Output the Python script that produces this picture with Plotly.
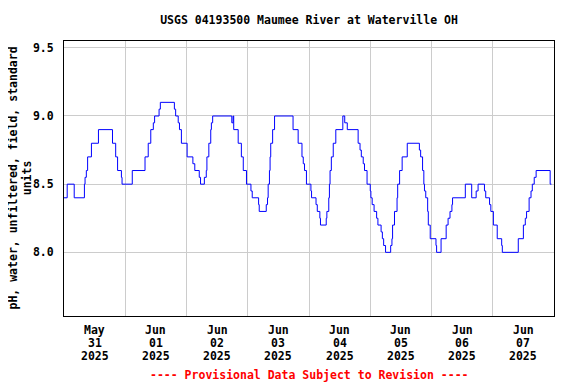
import pandas as pd
import plotly.graph_objects as go

# Change points of the pH series: hours after 2025-05-31 00:00 and value
hours = [0, 1.25, 4.0, 8.0, 8.25, 8.75, 9.25, 10.75, 13.5, 19.0,
         20.25, 21.0, 22.5, 22.75, 26.75, 31.75, 33.0, 34.0, 35.0, 35.5,
         37.25, 37.75, 43.25, 43.75, 44.75, 45.25, 46.0, 48.25, 50.5, 51.25,
         53.0, 53.5, 55.0, 55.75, 56.0, 56.75, 57.5, 57.75, 58.25, 65.75,
         66.25, 66.5, 68.25, 69.5, 70.25, 71.5, 73.25, 73.75, 76.25, 76.5,
         79.25, 79.75, 80.0, 80.5, 80.75, 81.0, 81.75, 82.5, 89.75, 91.75,
         93.25, 93.75, 94.25, 95.0, 96.75, 97.0, 98.75, 99.25, 100.25, 100.5,
         102.75, 103.0, 103.75, 104.0, 104.25, 104.75, 105.5, 106.5, 109.25, 110.0,
         111.0, 115.25, 116.0, 116.5, 117.25, 117.75, 118.75, 120.0, 120.25, 120.75,
         121.5, 122.5, 123.0, 124.25, 124.75, 125.25, 126.0, 128.0, 128.5, 128.75,
         129.5, 130.5, 130.75, 131.5, 132.5, 134.5, 139.25, 139.75, 140.5, 141.0,
         141.25, 141.75, 142.5, 142.75, 143.5, 145.75, 146.0, 147.75, 149.75, 150.5,
         151.25, 152.0, 152.25, 157.25, 159.75, 161.5, 162.25, 164.75, 165.25, 166.75,
         167.25, 168.25, 169.75, 171.5, 171.75, 178.0, 180.0, 180.75, 181.25, 182.25,
         183.0, 183.5, 184.25, 185.0, 190.5, 191.0]
ph = [8.4, 8.5, 8.4, 8.5, 8.55, 8.6, 8.7, 8.8, 8.9, 8.8,
      8.7, 8.6, 8.55, 8.5, 8.6, 8.7, 8.8, 8.9, 8.95, 9.0,
      9.05, 9.1, 9.05, 9.0, 8.95, 8.9, 8.8, 8.7, 8.65, 8.6,
      8.55, 8.5, 8.55, 8.6, 8.7, 8.8, 8.9, 8.95, 9.0, 8.95,
      9.0, 8.9, 8.8, 8.7, 8.6, 8.5, 8.45, 8.4, 8.35, 8.3,
      8.35, 8.4, 8.5, 8.6, 8.7, 8.8, 8.9, 9.0, 8.9, 8.8,
      8.7, 8.65, 8.6, 8.5, 8.45, 8.4, 8.35, 8.3, 8.25, 8.2,
      8.25, 8.3, 8.4, 8.5, 8.6, 8.7, 8.8, 8.9, 9.0, 8.95,
      8.9, 8.8, 8.75, 8.7, 8.65, 8.6, 8.5, 8.45, 8.4, 8.35,
      8.3, 8.25, 8.2, 8.15, 8.1, 8.05, 8.0, 8.05, 8.1, 8.2,
      8.3, 8.4, 8.5, 8.6, 8.7, 8.8, 8.75, 8.7, 8.6, 8.5,
      8.45, 8.4, 8.3, 8.2, 8.1, 8.05, 8.0, 8.1, 8.2, 8.25,
      8.3, 8.35, 8.4, 8.5, 8.4, 8.45, 8.5, 8.45, 8.4, 8.35,
      8.3, 8.2, 8.1, 8.05, 8.0, 8.1, 8.2, 8.25, 8.3, 8.4,
      8.45, 8.5, 8.55, 8.6, 8.5, 8.5]

label_dates = ["2025-05-31", "2025-06-01", "2025-06-02", "2025-06-03",
               "2025-06-04", "2025-06-05", "2025-06-06", "2025-06-07"]
label_month = ["May", "Jun", "Jun", "Jun", "Jun", "Jun", "Jun", "Jun"]
label_day = ["31", "01", "02", "03", "04", "05", "06", "07"]
label_year = ["2025"] * 8
grid_dates = ["2025-06-01", "2025-06-02", "2025-06-03", "2025-06-04",
              "2025-06-05", "2025-06-06", "2025-06-07"]
y_ticks = [8.0, 8.5, 9.0, 9.5]
y_ticktext = ["8.0", "8.5", "9.0", "9.5"]

base = pd.Timestamp("2025-05-31")
times = base + pd.to_timedelta(hours, unit="h")

FONT = "DejaVu Sans Mono"
# the page body adds an 8px offset, so the figure is laid out 8px up/left
W, H = 568, 376
L, T, PW, PH = 56, 33, 490, 275

fig = go.Figure()
fig.add_trace(go.Scatter(x=times, y=ph, mode="lines", line_shape="hv",
                         line=dict(color="#0000ff", width=1), showlegend=False,
                         hoverinfo="skip"))

fig.update_layout(
    width=W, height=H,
    margin=dict(l=L, r=W - L - PW, t=T, b=H - T - PH, pad=0),
    paper_bgcolor="white", plot_bgcolor="white",
    title=dict(text="<b>USGS 04193500 Maumee River at Waterville OH</b>",
               x=(L + PW / 2) / W, xanchor="center", y=1 - 12 / H, yanchor="middle",
               font=dict(family=FONT, size=11.5, color="black")),
)
fig.update_xaxes(
    type="date",
    range=["2025-05-31 00:00", "2025-06-08 00:00"],
    showticklabels=False, ticks="", showgrid=False,
    showline=True, linecolor="black", linewidth=1, mirror=True,
    minor=dict(tickvals=grid_dates, showgrid=True, gridcolor="#cccccc", gridwidth=1, ticks=""),
    zeroline=False,
)
fig.update_yaxes(
    range=[7.533, 9.55],
    tickvals=y_ticks, ticktext=["<b>%s</b>" % t for t in y_ticktext],
    tickfont=dict(family=FONT, size=11.5, color="black"),
    ticks="", ticklabelstandoff=7,
    showgrid=True, gridcolor="#cccccc", gridwidth=1,
    showline=True, linecolor="black", linewidth=1, mirror=True,
    zeroline=False,
)

annotations = []
rows = [(label_month, -14), (label_day, -27), (label_year, -40)]
for texts, dy in rows:
    for d, t in zip(label_dates, texts):
        annotations.append(dict(
            x=pd.Timestamp(d) + pd.Timedelta(hours=12), xref="x",
            y=0, yref="paper", yshift=dy, showarrow=False,
            text="<b>%s</b>" % t, xanchor="center", yanchor="middle",
            font=dict(family=FONT, size=11.5, color="black")))
annotations.append(dict(
    x=(12 - L) / PW, xref="paper", y=0.5, yref="paper",
    text="<b>pH, water, unfiltered, field, standard<br>units</b>",
    textangle=-90, showarrow=False, xanchor="center", yanchor="middle",
    font=dict(family=FONT, size=11.5, color="black")))
annotations.append(dict(
    x=0.5, xref="paper", y=0, yref="paper", yshift=-59,
    text="<b>---- Provisional Data Subject to Revision ----</b>",
    showarrow=False, xanchor="center", yanchor="middle",
    font=dict(family=FONT, size=11.5, color="red")))
fig.update_layout(annotations=annotations)

fig.write_html("out.html")
